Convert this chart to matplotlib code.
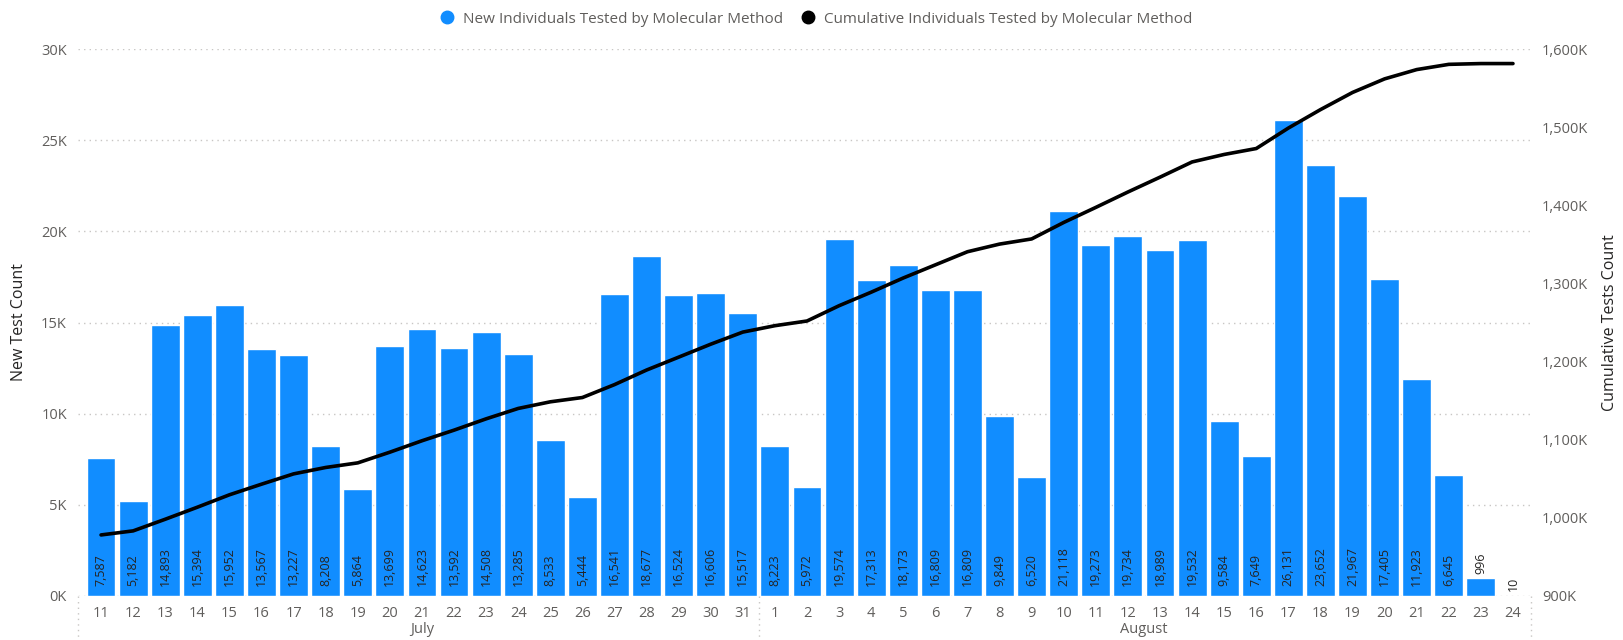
import matplotlib.pyplot as plt
from matplotlib.lines import Line2D
from matplotlib.ticker import FuncFormatter

plt.rcParams['font.family'] = ['Open Sans', 'DejaVu Sans']

days = [11, 12, 13, 14, 15, 16, 17, 18, 19, 20, 21, 22, 23, 24, 25, 26, 27, 28, 29, 30, 31,
        1, 2, 3, 4, 5, 6, 7, 8, 9, 10, 11, 12, 13, 14, 15, 16, 17, 18, 19, 20, 21, 22, 23, 24]
months = ['July', 'August']
month_lengths = [21, 24]

new_tests = [7587, 5182, 14893, 15394, 15952, 13567, 13227, 8208, 5864, 13699, 14623,
             13592, 14508, 13285, 8533, 5444, 16541, 18677, 16524, 16606, 15517,
             8223, 5972, 19574, 17313, 18173, 16809, 16809, 9849, 6520, 21118, 19273,
             19734, 18989, 19532, 9584, 7649, 26131, 23652, 21967, 17405, 11923, 6645,
             996, 10]

# cumulative individuals tested (thousands)
cumulative_k = [978.0, 983.2, 998.1, 1013.5, 1029.4, 1043.0, 1056.2, 1064.4, 1070.3,
                1084.0, 1098.6, 1112.2, 1126.7, 1140.0, 1148.5, 1154.0, 1170.5, 1189.2,
                1205.7, 1222.3, 1237.8, 1246.0, 1252.0, 1271.6, 1288.9, 1307.1, 1323.9,
                1340.7, 1350.5, 1357.1, 1378.2, 1397.5, 1417.2, 1436.2, 1455.7, 1465.3,
                1472.9, 1499.1, 1522.7, 1544.7, 1562.1, 1574.0, 1580.7, 1581.7, 1581.7]

bar_color = '#118DFF'
grey = '#605E5C'
x = list(range(len(days)))

fig = plt.figure(figsize=(16.24, 6.4), dpi=100)
ax = fig.add_axes([0.048, 0.069, 0.8947, 0.854])
ax2 = ax.twinx()

ax.bar(x, new_tests, width=0.9, color=bar_color, edgecolor='white', linewidth=1.0, zorder=2)
ax.set_ylim(0, 30000)
ax.set_xlim(-0.72, 44.56)
ax.set_yticks(range(0, 30001, 5000))
ax.yaxis.set_major_formatter(FuncFormatter(lambda v, p: f'{int(v / 1000)}K'))
ax.grid(axis='y', color='#C8C6C4', linestyle=(0, (1, 3)), linewidth=1.0, zorder=0)
ax.set_axisbelow(True)

# data labels
for xi, v in zip(x, new_tests):
    if v < 3000:
        ax.annotate(f'{v:,}', (xi, v), xytext=(0, 3), textcoords='offset points',
                    rotation=90, ha='center', va='bottom', fontsize=9, color='#252423')
    else:
        ax.annotate(f'{v:,}', (xi, 0), xytext=(0, 7), textcoords='offset points',
                    rotation=90, ha='center', va='bottom', fontsize=9, color='#252423')

ax2.plot(x, [c * 1000 for c in cumulative_k], color='black', linewidth=2.6,
         solid_capstyle='round', zorder=3)
ax2.set_ylim(900000, 1600000)
ax2.set_yticks(range(900000, 1600001, 100000))
ax2.yaxis.set_major_formatter(FuncFormatter(lambda v, p: f'{int(v / 1000):,}K'))

for a in (ax, ax2):
    for s in a.spines.values():
        s.set_visible(False)
    a.tick_params(axis='y', length=0, labelsize=10.5, labelcolor=grey, pad=8)

ax.set_xticks(x)
ax.set_xticklabels([str(d) for d in days])
ax.tick_params(axis='x', length=0, labelsize=10.5, labelcolor=grey, pad=7)

ax.set_ylabel('New Test Count', fontsize=11.5, color='#252423', labelpad=10)
ax2.set_ylabel('Cumulative Tests Count', fontsize=11.5, color='#252423', labelpad=10)

# month labels and separators
start = 0
bounds = [-0.72]
for m, n in zip(months, month_lengths):
    center = start + (n - 1) / 2
    ax.text(center, -0.062, m, transform=ax.get_xaxis_transform(), ha='center',
            va='center', fontsize=10.5, color=grey)
    start += n
    bounds.append(start - 0.5)
bounds[-1] = 44.56
for b in bounds:
    ax.plot([b, b], [0, -0.08], transform=ax.get_xaxis_transform(), clip_on=False,
            color='#C8C6C4', linestyle=(0, (1, 3)), linewidth=1.0)

handles = [Line2D([], [], marker='o', linestyle='', markersize=9, color=bar_color),
           Line2D([], [], marker='o', linestyle='', markersize=9, color='black')]
fig.legend(handles, ['New Individuals Tested by Molecular Method',
                     'Cumulative Individuals Tested by Molecular Method'],
           loc='center', bbox_to_anchor=(0.5, 0.97), ncol=2, frameon=False,
           fontsize=11, labelcolor=grey, handletextpad=0.05, columnspacing=0.6)

fig.savefig('out.png', dpi=100)
